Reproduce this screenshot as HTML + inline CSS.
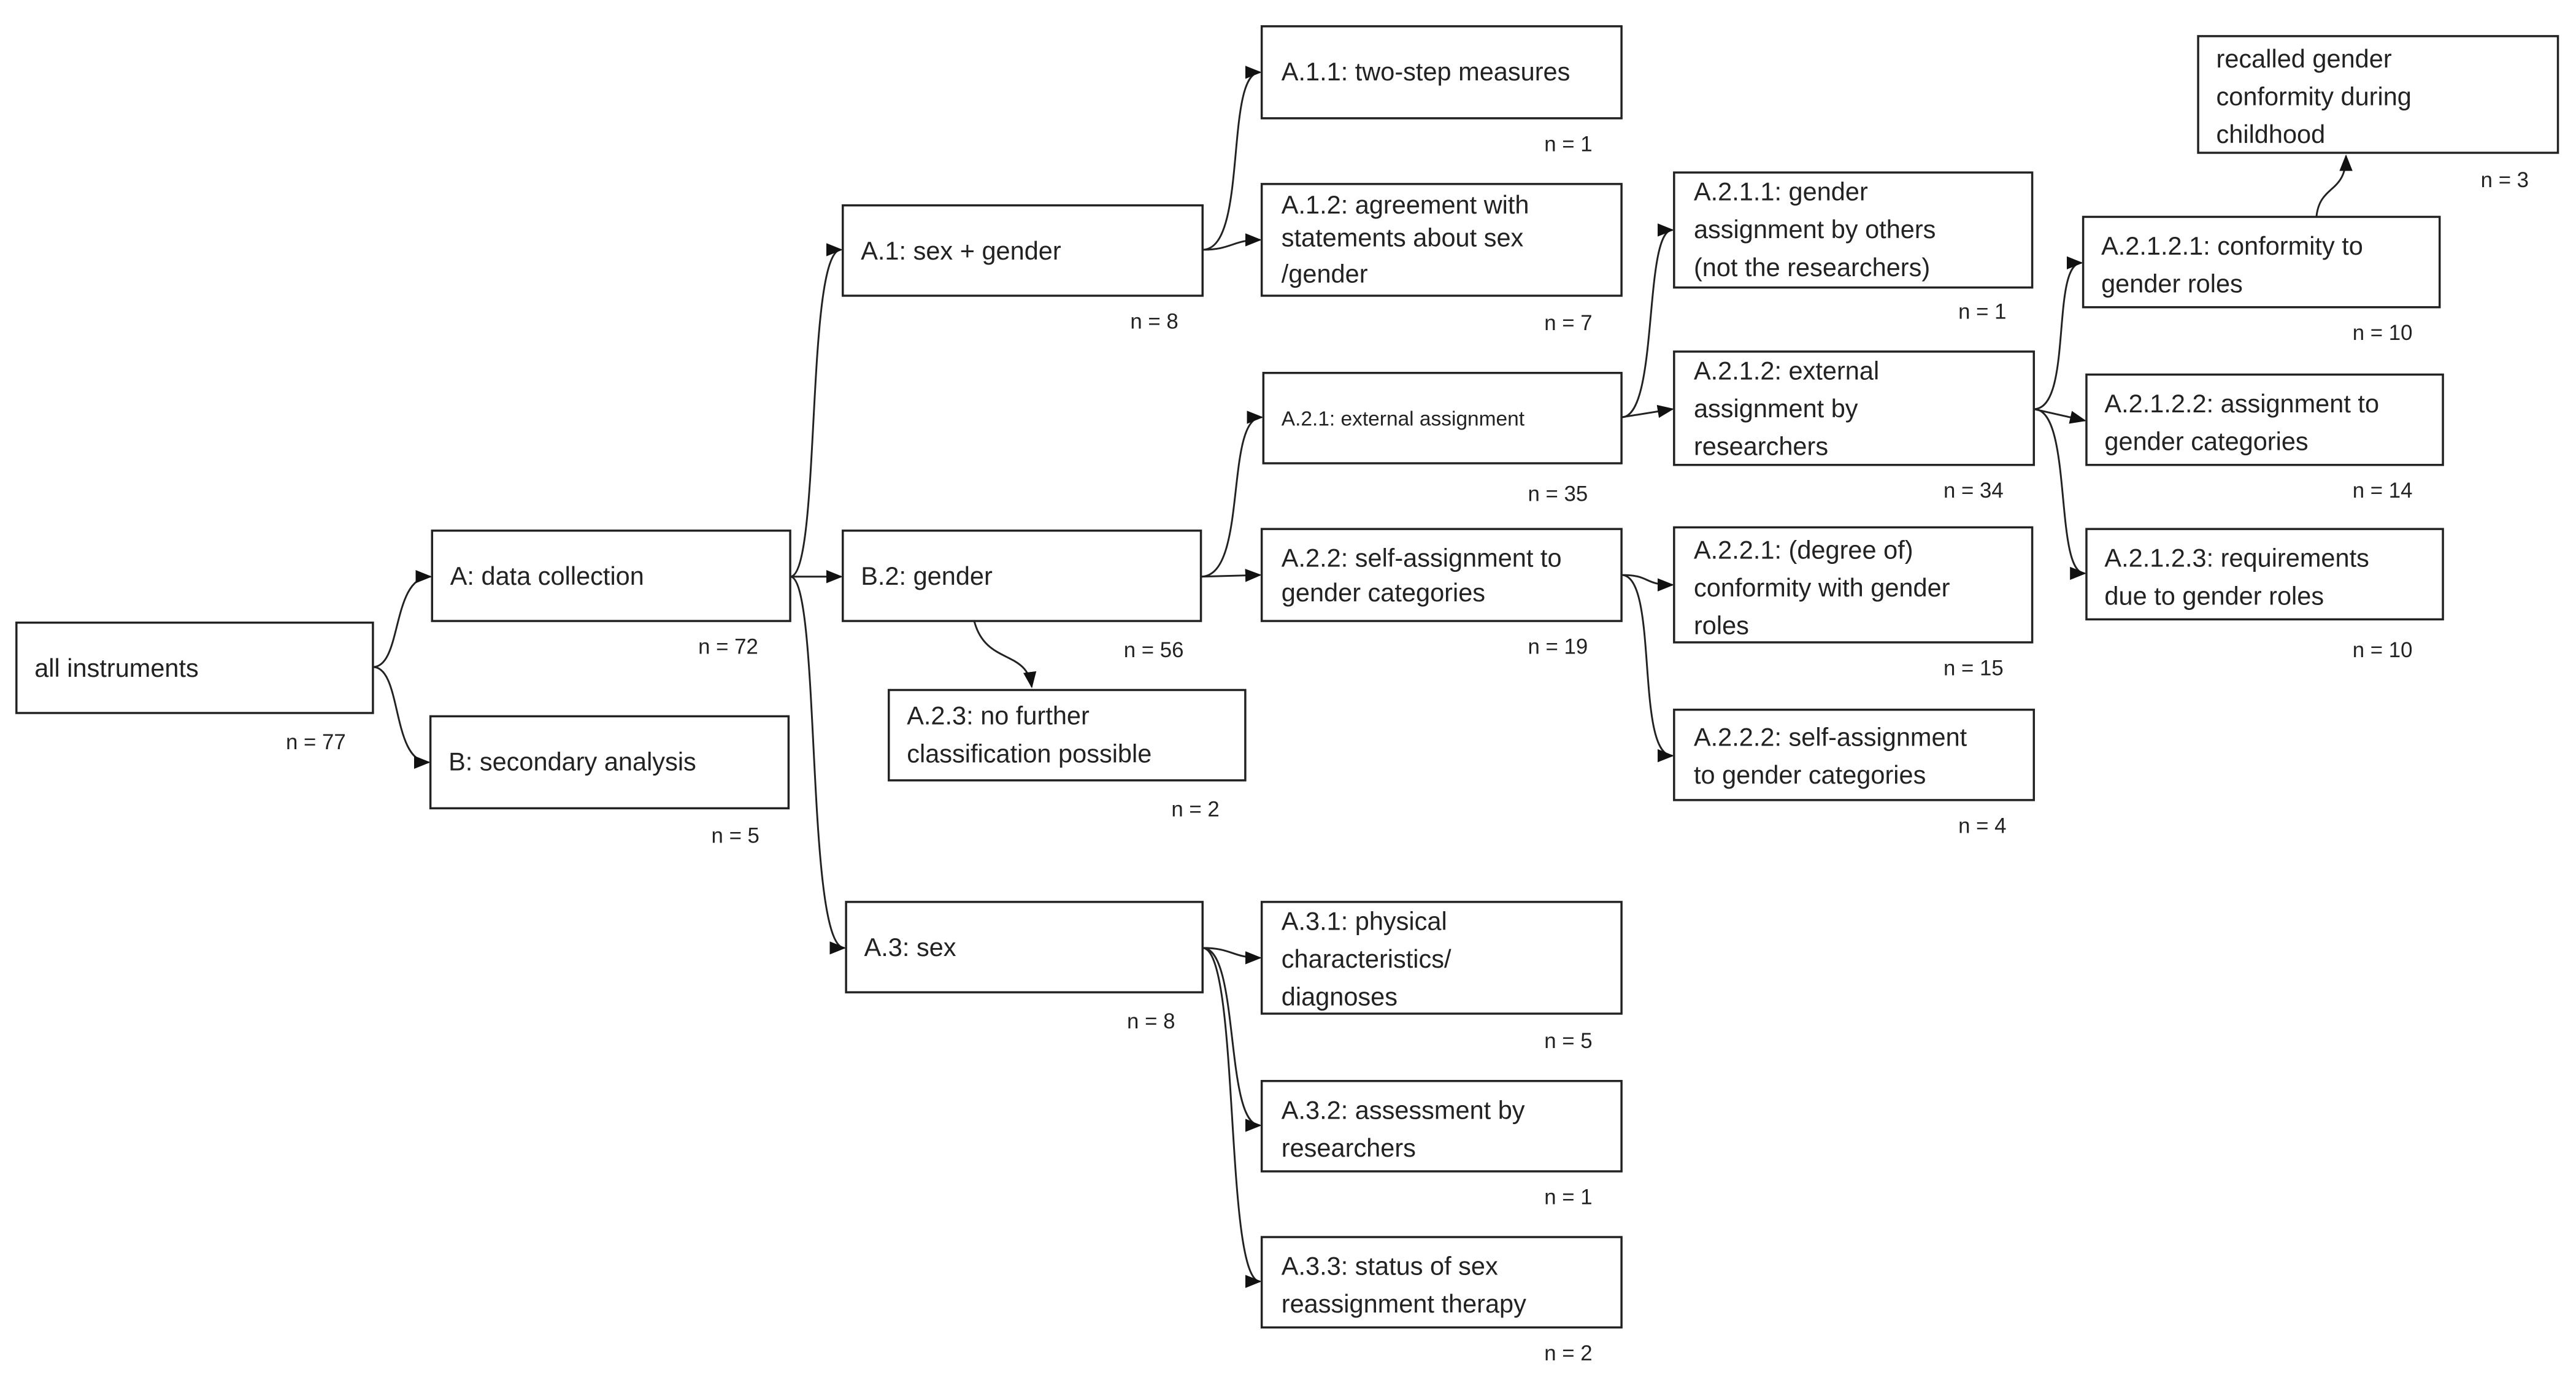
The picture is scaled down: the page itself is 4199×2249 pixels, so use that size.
<!DOCTYPE html>
<html><head><meta charset="utf-8"><style>
html,body{margin:0;padding:0;background:#fff;}
svg{display:block;}
text{font-family:"Liberation Sans",sans-serif;font-size:15.5px;fill:#222;}
.n{font-size:13px;}
rect{fill:#fff;stroke:#222;stroke-width:1.3;}
path{fill:none;stroke:#222;stroke-width:1.1;}
</style></head><body>
<svg width="4199" height="2249" viewBox="0 0 1568 840" preserveAspectRatio="none" xmlns="http://www.w3.org/2000/svg">
<defs><marker id="a" markerWidth="10" markerHeight="8" refX="9" refY="4" orient="auto" markerUnits="userSpaceOnUse"><path d="M0,0 L10,4 L0,8 Z" style="fill:#111;stroke:none"/></marker></defs>

<!-- connectors -->
<g marker-end="url(#a)">
<path d="M227,406 C245,406 238,351 262,351"/>
<path d="M227,406 C245,406 238,464 261,464"/>
<path d="M481,351 C500,351 490,152 512,152"/>
<path d="M481,351 L512,351"/>
<path d="M481,351 C500,351 490,577 514,577"/>
<path d="M593,378 C600,405 625,395 628,418"/>
<path d="M732,152 C760,152 745,44 767,44"/>
<path d="M732,152 C750,152 750,146 767,146"/>
<path d="M731,351 C760,351 745,254 768,254"/>
<path d="M731,351 L767,350"/>
<path d="M732,577 C750,577 750,583 767,583"/>
<path d="M732,577 C755,577 745,685 767,685"/>
<path d="M732,577 C755,577 745,780 767,780"/>
<path d="M987,254 C1010,254 1000,140 1018,140"/>
<path d="M987,254 L1018,249"/>
<path d="M987,350 C1005,350 1000,356 1018,356"/>
<path d="M987,350 C1010,350 995,460 1018,460"/>
<path d="M1238,249 C1262,249 1248,160 1267,160"/>
<path d="M1238,249 L1269,256"/>
<path d="M1238,249 C1262,249 1250,349 1269,349"/>
<path d="M1410,132 C1412,112 1428,118 1428,95"/>
</g>

<!-- boxes -->
<rect x="10" y="379" width="217" height="55"/><text x="21" y="412">all instruments</text>
<text class="n" x="174" y="456">n = 77</text>
<rect x="263" y="323" width="218" height="55"/><text x="274" y="356">A: data collection</text>
<text class="n" x="425" y="398">n = 72</text>
<rect x="262" y="436" width="218" height="56"/><text x="273" y="469">B: secondary analysis</text>
<text class="n" x="433" y="513">n = 5</text>

<rect x="513" y="125" width="219" height="55"/><text x="524" y="158">A.1: sex + gender</text>
<text class="n" x="688" y="200">n = 8</text>
<rect x="513" y="323" width="218" height="55"/><text x="524" y="356">B.2: gender</text>
<text class="n" x="684" y="400">n = 56</text>
<rect x="541" y="420" width="217" height="55"/><text x="552" y="441">A.2.3: no further</text><text x="552" y="464">classification possible</text>
<text class="n" x="713" y="497">n = 2</text>
<rect x="515" y="549" width="217" height="55"/><text x="526" y="582">A.3: sex</text>
<text class="n" x="686" y="626">n = 8</text>

<rect x="768" y="16" width="219" height="56"/><text x="780" y="49">A.1.1:  two-step measures</text>
<text class="n" x="940" y="92">n = 1</text>
<rect x="768" y="112" width="219" height="68"/><text x="780" y="130">A.1.2: agreement with</text><text x="780" y="150">statements about sex</text><text x="780" y="172">/gender</text>
<text class="n" x="940" y="201">n = 7</text>
<rect x="769" y="227" width="218" height="55"/><text x="780" y="259" style="font-size:12.5px">A.2.1: external assignment</text>
<text class="n" x="930" y="305">n = 35</text>
<rect x="768" y="322" width="219" height="56"/><text x="780" y="345">A.2.2: self-assignment to</text><text x="780" y="366">gender categories</text>
<text class="n" x="930" y="398">n = 19</text>
<rect x="768" y="549" width="219" height="68"/><text x="780" y="566">A.3.1: physical</text><text x="780" y="589">characteristics/</text><text x="780" y="612">diagnoses</text>
<text class="n" x="940" y="638">n = 5</text>
<rect x="768" y="658" width="219" height="55"/><text x="780" y="681">A.3.2: assessment by</text><text x="780" y="704">researchers</text>
<text class="n" x="940" y="733">n = 1</text>
<rect x="768" y="753" width="219" height="55"/><text x="780" y="776">A.3.3: status of sex</text><text x="780" y="799">reassignment therapy</text>
<text class="n" x="940" y="828">n = 2</text>

<rect x="1019" y="105" width="218" height="70"/><text x="1031" y="122">A.2.1.1: gender</text><text x="1031" y="145">assignment by others</text><text x="1031" y="168">(not the researchers)</text>
<text class="n" x="1192" y="194">n = 1</text>
<rect x="1019" y="214" width="219" height="69"/><text x="1031" y="231">A.2.1.2: external</text><text x="1031" y="254">assignment by</text><text x="1031" y="277">researchers</text>
<text class="n" x="1183" y="303">n = 34</text>
<rect x="1019" y="321" width="218" height="70"/><text x="1031" y="340">A.2.2.1: (degree of)</text><text x="1031" y="363">conformity  with gender</text><text x="1031" y="386">roles</text>
<text class="n" x="1183" y="411">n = 15</text>
<rect x="1019" y="432" width="219" height="55"/><text x="1031" y="454">A.2.2.2: self-assignment</text><text x="1031" y="477">to gender categories</text>
<text class="n" x="1192" y="507">n = 4</text>

<rect x="1338" y="22" width="219" height="71"/><text x="1349" y="41">recalled gender</text><text x="1349" y="64">conformity  during</text><text x="1349" y="87">childhood</text>
<text class="n" x="1510" y="114">n = 3</text>
<rect x="1268" y="132" width="217" height="55"/><text x="1279" y="155">A.2.1.2.1: conformity  to</text><text x="1279" y="178">gender roles</text>
<text class="n" x="1432" y="207">n = 10</text>
<rect x="1270" y="228" width="217" height="55"/><text x="1281" y="251">A.2.1.2.2: assignment to</text><text x="1281" y="274">gender categories</text>
<text class="n" x="1432" y="303">n = 14</text>
<rect x="1270" y="322" width="217" height="55"/><text x="1281" y="345">A.2.1.2.3: requirements</text><text x="1281" y="368">due to gender roles</text>
<text class="n" x="1432" y="400">n = 10</text>
</svg>
</body></html>
